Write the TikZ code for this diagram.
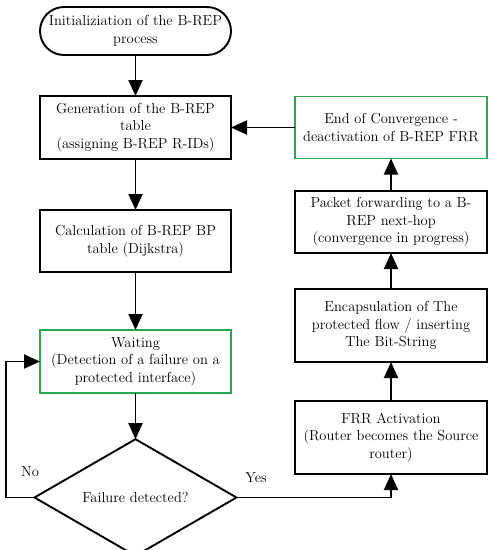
\documentclass[tikz,border=0pt]{standalone}
\usetikzlibrary{arrows.meta,shapes.geometric,shapes.misc}

\definecolor{fcgreen}{RGB}{34,170,76}
\definecolor{fctext}{RGB}{0,0,0}

\begin{document}
\begin{tikzpicture}[
  x=1pt,
  y=-1pt,
  every node/.style={inner sep=0pt, outer sep=0pt},
  label/.style={font=\fontsize{14.5}{17.5}\selectfont, text=fctext, align=center},
  stepbox/.style={label, draw=black, line width=1.9pt, rectangle, minimum width=191pt},
  waitbox/.style={stepbox, draw=fcgreen},
  termbox/.style={label, draw=black, line width=1.9pt, rounded rectangle, minimum width=191pt, minimum height=48pt},
  decbox/.style={label, draw=black, line width=1.9pt, diamond, minimum width=202pt, minimum height=95pt},
  flow/.style={draw=black, line width=1.9pt, -{Triangle[length=16pt,width=14pt]}}
]

  \path[use as bounding box] (0,0) rectangle (493,550);

  % Left column
  \node[termbox] (start) at (135.5,31) {Initializiation of the B-REP\\process};
  \node[stepbox, minimum height=63pt] (gen) at (135.5,127.5) {Generation of the B-REP\\table\\(assigning B-REP R-IDs)};
  \node[stepbox, minimum height=62pt] (calc) at (135.5,241) {Calculation of B-REP BP\\table (Dijkstra)};
  \node[waitbox, minimum height=63pt] (wait) at (135.5,361.5) {Waiting\\(Detection of a failure on a\\protected interface)};
  \node[decbox] (dec) at (135.5,497.5) {Failure detected?};

  % Right column
  \node[stepbox, minimum width=192pt, minimum height=73pt] (frr) at (391,437.5) {FRR Activation\\(Router becomes the Source\\router)};
  \node[stepbox, minimum width=192pt, minimum height=73pt] (enc) at (391,325.5) {Encapsulation of The\\protected flow / inserting\\The Bit-String};
  \node[stepbox, minimum width=192pt, minimum height=62pt] (pkt) at (391,222) {Packet forwarding to a B-\\REP next-hop\\(convergence in progress)};
  \node[waitbox, minimum width=192pt, minimum height=62pt] (endc) at (391,127.5) {End of Convergence -\\deactivation of B-REP FRR};

  % Arrows
  \draw[flow] (start) -- (gen);
  \draw[flow] (gen) -- (calc);
  \draw[flow] (calc) -- (wait);
  \draw[flow] (wait) -- (dec);
  \draw[flow] (dec.west) -| ([xshift=-34pt]wait.west) -- (wait.west);
  \draw[flow] (dec.east) -| (frr.south);
  \draw[flow] (frr) -- (enc);
  \draw[flow] (enc) -- (pkt);
  \draw[flow] (pkt) -- (endc);
  \draw[flow] (endc) -- (gen);

  \node[label] (no) at (30,472) {No};
  \node[label] (yes) at (256,478) {Yes};

\end{tikzpicture}
\end{document}
